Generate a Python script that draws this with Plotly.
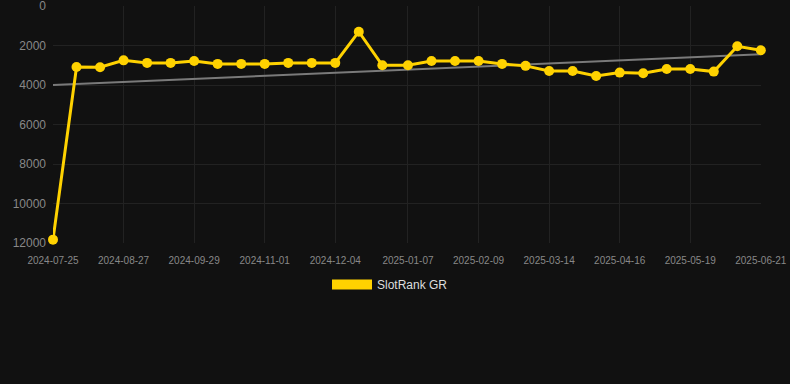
import plotly.graph_objects as go
import pandas as pd

point_dates = ["2024-07-25", "2024-08-05", "2024-08-16", "2024-08-27", "2024-09-07",
               "2024-09-18", "2024-09-29", "2024-10-10", "2024-10-21", "2024-11-01",
               "2024-11-12", "2024-11-23", "2024-12-04", "2024-12-15", "2024-12-26",
               "2025-01-07", "2025-01-18", "2025-01-29", "2025-02-09", "2025-02-20",
               "2025-03-03", "2025-03-14", "2025-03-25", "2025-04-05", "2025-04-16",
               "2025-04-27", "2025-05-08", "2025-05-19", "2025-05-30", "2025-06-10",
               "2025-06-21"]
rank_values = [11830, 3085, 3100, 2750, 2880, 2880, 2780, 2930, 2930, 2930,
               2880, 2880, 2880, 1300, 3000, 3000, 2780, 2780, 2780, 2930,
               3030, 3290, 3290, 3540, 3370, 3400, 3190, 3190, 3320, 2040, 2240]
trend_values = [3995, 2445]
tick_dates = ["2024-07-25", "2024-08-27", "2024-09-29", "2024-11-01", "2024-12-04",
              "2025-01-07", "2025-02-09", "2025-03-14", "2025-04-16", "2025-05-19",
              "2025-06-21"]
y_ticks = [0, 2000, 4000, 6000, 8000, 10000, 12000]
y_tick_labels = ["0", "2000", "4000", "6000", "8000", "10000", "12000"]

dates = pd.to_datetime(point_dates)
trend_x = [dates[0], dates[-1]]

gold = "#FFD200"
fig = go.Figure()
fig.add_trace(go.Scatter(x=trend_x, y=trend_values, mode="lines",
                         line=dict(color="#7a7a7a", width=2), showlegend=False,
                         hoverinfo="skip"))
fig.add_trace(go.Scatter(x=dates, y=rank_values, mode="lines+markers",
                         line=dict(color=gold, width=3),
                         marker=dict(color=gold, size=10),
                         cliponaxis=False, showlegend=False, name="SlotRank GR"))
fig.add_trace(go.Scatter(x=[None], y=[None], mode="lines",
                         line=dict(color=gold, width=12), name="SlotRank GR"))

x_end = dates[-1] + pd.Timedelta(hours=2)
fig.update_layout(
    width=790, height=384,
    margin=dict(l=53, r=29, t=6, b=141),
    paper_bgcolor="#111111", plot_bgcolor="#111111",
    font=dict(family="Liberation Sans, Arial, sans-serif", color="#888888"),
    showlegend=True,
    legend=dict(orientation="h", x=0.476, xanchor="center", y=-0.175, yanchor="middle",
                font=dict(size=12, color="#dddddd"), itemwidth=40,
                bgcolor="rgba(0,0,0,0)"),
    xaxis=dict(range=[dates[0], x_end], tickvals=pd.to_datetime(tick_dates),
               ticktext=tick_dates, tickfont=dict(size=10, color="#888888"),
               showgrid=True, gridcolor="#222222", zeroline=False, showline=False,
               ticks="", ticklabelstandoff=10, ticklabeloverflow="allow",
               automargin=False),
    yaxis=dict(range=[12000, -2], tickvals=y_ticks, ticktext=y_tick_labels,
               tickfont=dict(size=12, color="#888888"),
               showgrid=True, gridcolor="#222222", zeroline=False, showline=False,
               ticks="", ticklabelstandoff=6, ticklabeloverflow="allow",
               automargin=False),
)
fig.write_html("out.html", config={"displayModeBar": False},
               post_script="document.body.style.margin='0';document.body.style.overflow='hidden';")
